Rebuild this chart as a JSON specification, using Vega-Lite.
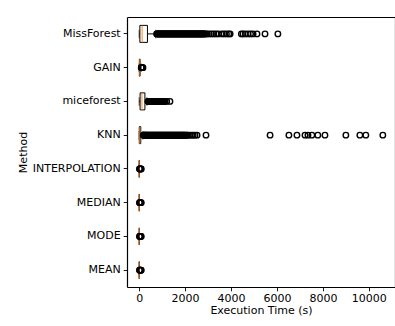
{
  "$schema": "https://vega.github.io/schema/vega-lite/v6.json",
  "autosize": {"type": "none"},
  "padding": {"left": 127, "top": 17, "right": 0, "bottom": 39},
  "width": 268,
  "height": 270,
  "background": "white",
  "view": {"stroke": null, "fill": "white"},
  "config": {
    "font": "DejaVu Sans",
    "axis": {
      "labelFont": "DejaVu Sans", "labelFontSize": 11, "labelColor": "black",
      "titleFont": "DejaVu Sans", "titleFontSize": 11, "titleColor": "black", "titleFontWeight": "normal",
      "tickColor": "black", "tickSize": 3.8, "tickWidth": 0.9, "grid": false,
      "domain": true, "domainColor": "black", "domainWidth": 1.2
    }
  },
  "resolve": {"axis": {"x": "independent", "y": "independent"}},
  "datasets": {
    "boxes": [
      {"Method": "MissForest", "lo": 0, "q1": 30, "med": 130, "q3": 360, "hi": 720},
      {"Method": "GAIN", "lo": 0, "q1": 8, "med": 20, "q3": 40, "hi": 85},
      {"Method": "miceforest", "lo": 0, "q1": 40, "med": 120, "q3": 250, "hi": 340},
      {"Method": "KNN", "lo": 0, "q1": 5, "med": 25, "q3": 70, "hi": 160},
      {"Method": "INTERPOLATION", "lo": 0, "q1": 1, "med": 3, "q3": 6, "hi": 13},
      {"Method": "MEDIAN", "lo": 0, "q1": 1, "med": 3, "q3": 6, "hi": 13},
      {"Method": "MODE", "lo": 0, "q1": 1, "med": 3, "q3": 6, "hi": 13},
      {"Method": "MEAN", "lo": 0, "q1": 1, "med": 3, "q3": 6, "hi": 13}
    ],
    "outliers": [
      {"Method": "MissForest", "t": 760}, {"Method": "MissForest", "t": 780}, {"Method": "MissForest", "t": 800},
      {"Method": "MissForest", "t": 825}, {"Method": "MissForest", "t": 850}, {"Method": "MissForest", "t": 875},
      {"Method": "MissForest", "t": 900}, {"Method": "MissForest", "t": 925}, {"Method": "MissForest", "t": 950},
      {"Method": "MissForest", "t": 975}, {"Method": "MissForest", "t": 1000}, {"Method": "MissForest", "t": 1025},
      {"Method": "MissForest", "t": 1050}, {"Method": "MissForest", "t": 1075}, {"Method": "MissForest", "t": 1100},
      {"Method": "MissForest", "t": 1125}, {"Method": "MissForest", "t": 1150}, {"Method": "MissForest", "t": 1175},
      {"Method": "MissForest", "t": 1200}, {"Method": "MissForest", "t": 1225}, {"Method": "MissForest", "t": 1250},
      {"Method": "MissForest", "t": 1275}, {"Method": "MissForest", "t": 1300}, {"Method": "MissForest", "t": 1325},
      {"Method": "MissForest", "t": 1350}, {"Method": "MissForest", "t": 1375}, {"Method": "MissForest", "t": 1400},
      {"Method": "MissForest", "t": 1425}, {"Method": "MissForest", "t": 1450}, {"Method": "MissForest", "t": 1475},
      {"Method": "MissForest", "t": 1500}, {"Method": "MissForest", "t": 1525}, {"Method": "MissForest", "t": 1550},
      {"Method": "MissForest", "t": 1575}, {"Method": "MissForest", "t": 1600}, {"Method": "MissForest", "t": 1625},
      {"Method": "MissForest", "t": 1650}, {"Method": "MissForest", "t": 1675}, {"Method": "MissForest", "t": 1700},
      {"Method": "MissForest", "t": 1725}, {"Method": "MissForest", "t": 1750}, {"Method": "MissForest", "t": 1775},
      {"Method": "MissForest", "t": 1800}, {"Method": "MissForest", "t": 1825}, {"Method": "MissForest", "t": 1850},
      {"Method": "MissForest", "t": 1875}, {"Method": "MissForest", "t": 1900}, {"Method": "MissForest", "t": 1925},
      {"Method": "MissForest", "t": 1950}, {"Method": "MissForest", "t": 1975}, {"Method": "MissForest", "t": 2000},
      {"Method": "MissForest", "t": 2025}, {"Method": "MissForest", "t": 2050}, {"Method": "MissForest", "t": 2075},
      {"Method": "MissForest", "t": 2100}, {"Method": "MissForest", "t": 2125}, {"Method": "MissForest", "t": 2150},
      {"Method": "MissForest", "t": 2175}, {"Method": "MissForest", "t": 2200}, {"Method": "MissForest", "t": 2225},
      {"Method": "MissForest", "t": 2250}, {"Method": "MissForest", "t": 2275}, {"Method": "MissForest", "t": 2300},
      {"Method": "MissForest", "t": 2325}, {"Method": "MissForest", "t": 2350}, {"Method": "MissForest", "t": 2375},
      {"Method": "MissForest", "t": 2400}, {"Method": "MissForest", "t": 2425}, {"Method": "MissForest", "t": 2450},
      {"Method": "MissForest", "t": 2475}, {"Method": "MissForest", "t": 2500}, {"Method": "MissForest", "t": 2525},
      {"Method": "MissForest", "t": 2550}, {"Method": "MissForest", "t": 2575}, {"Method": "MissForest", "t": 2600},
      {"Method": "MissForest", "t": 2625}, {"Method": "MissForest", "t": 2650}, {"Method": "MissForest", "t": 2675},
      {"Method": "MissForest", "t": 2700}, {"Method": "MissForest", "t": 2725}, {"Method": "MissForest", "t": 2750},
      {"Method": "MissForest", "t": 2775}, {"Method": "MissForest", "t": 2800}, {"Method": "MissForest", "t": 2830},
      {"Method": "MissForest", "t": 2870}, {"Method": "MissForest", "t": 2900}, {"Method": "MissForest", "t": 2960},
      {"Method": "MissForest", "t": 3050}, {"Method": "MissForest", "t": 3150}, {"Method": "MissForest", "t": 3250},
      {"Method": "MissForest", "t": 3350}, {"Method": "MissForest", "t": 3450}, {"Method": "MissForest", "t": 3600},
      {"Method": "MissForest", "t": 3700}, {"Method": "MissForest", "t": 3800}, {"Method": "MissForest", "t": 3900},
      {"Method": "MissForest", "t": 3960}, {"Method": "MissForest", "t": 4450}, {"Method": "MissForest", "t": 4520},
      {"Method": "MissForest", "t": 4620}, {"Method": "MissForest", "t": 4740}, {"Method": "MissForest", "t": 4850},
      {"Method": "MissForest", "t": 4960}, {"Method": "MissForest", "t": 5130}, {"Method": "MissForest", "t": 5480},
      {"Method": "MissForest", "t": 6040},
      {"Method": "GAIN", "t": 90}, {"Method": "GAIN", "t": 100}, {"Method": "GAIN", "t": 110},
      {"Method": "GAIN", "t": 120}, {"Method": "GAIN", "t": 135}, {"Method": "GAIN", "t": 150},
      {"Method": "GAIN", "t": 165},
      {"Method": "miceforest", "t": 380}, {"Method": "miceforest", "t": 400}, {"Method": "miceforest", "t": 420},
      {"Method": "miceforest", "t": 445}, {"Method": "miceforest", "t": 470}, {"Method": "miceforest", "t": 495},
      {"Method": "miceforest", "t": 520}, {"Method": "miceforest", "t": 545}, {"Method": "miceforest", "t": 570},
      {"Method": "miceforest", "t": 595}, {"Method": "miceforest", "t": 620}, {"Method": "miceforest", "t": 645},
      {"Method": "miceforest", "t": 670}, {"Method": "miceforest", "t": 695}, {"Method": "miceforest", "t": 720},
      {"Method": "miceforest", "t": 745}, {"Method": "miceforest", "t": 770}, {"Method": "miceforest", "t": 795},
      {"Method": "miceforest", "t": 820}, {"Method": "miceforest", "t": 845}, {"Method": "miceforest", "t": 870},
      {"Method": "miceforest", "t": 895}, {"Method": "miceforest", "t": 920}, {"Method": "miceforest", "t": 945},
      {"Method": "miceforest", "t": 970}, {"Method": "miceforest", "t": 995}, {"Method": "miceforest", "t": 1020},
      {"Method": "miceforest", "t": 1045}, {"Method": "miceforest", "t": 1070}, {"Method": "miceforest", "t": 1100},
      {"Method": "miceforest", "t": 1130}, {"Method": "miceforest", "t": 1200}, {"Method": "miceforest", "t": 1340},
      {"Method": "KNN", "t": 180}, {"Method": "KNN", "t": 200}, {"Method": "KNN", "t": 220},
      {"Method": "KNN", "t": 240}, {"Method": "KNN", "t": 260}, {"Method": "KNN", "t": 280},
      {"Method": "KNN", "t": 300}, {"Method": "KNN", "t": 325}, {"Method": "KNN", "t": 350},
      {"Method": "KNN", "t": 375}, {"Method": "KNN", "t": 400}, {"Method": "KNN", "t": 425},
      {"Method": "KNN", "t": 450}, {"Method": "KNN", "t": 475}, {"Method": "KNN", "t": 500},
      {"Method": "KNN", "t": 525}, {"Method": "KNN", "t": 550}, {"Method": "KNN", "t": 575},
      {"Method": "KNN", "t": 600}, {"Method": "KNN", "t": 625}, {"Method": "KNN", "t": 650},
      {"Method": "KNN", "t": 675}, {"Method": "KNN", "t": 700}, {"Method": "KNN", "t": 725},
      {"Method": "KNN", "t": 750}, {"Method": "KNN", "t": 775}, {"Method": "KNN", "t": 800},
      {"Method": "KNN", "t": 825}, {"Method": "KNN", "t": 850}, {"Method": "KNN", "t": 875},
      {"Method": "KNN", "t": 900}, {"Method": "KNN", "t": 925}, {"Method": "KNN", "t": 950},
      {"Method": "KNN", "t": 975}, {"Method": "KNN", "t": 1000}, {"Method": "KNN", "t": 1025},
      {"Method": "KNN", "t": 1050}, {"Method": "KNN", "t": 1075}, {"Method": "KNN", "t": 1100},
      {"Method": "KNN", "t": 1125}, {"Method": "KNN", "t": 1150}, {"Method": "KNN", "t": 1175},
      {"Method": "KNN", "t": 1200}, {"Method": "KNN", "t": 1225}, {"Method": "KNN", "t": 1250},
      {"Method": "KNN", "t": 1275}, {"Method": "KNN", "t": 1300}, {"Method": "KNN", "t": 1325},
      {"Method": "KNN", "t": 1350}, {"Method": "KNN", "t": 1375}, {"Method": "KNN", "t": 1400},
      {"Method": "KNN", "t": 1425}, {"Method": "KNN", "t": 1450}, {"Method": "KNN", "t": 1475},
      {"Method": "KNN", "t": 1500}, {"Method": "KNN", "t": 1525}, {"Method": "KNN", "t": 1550},
      {"Method": "KNN", "t": 1575}, {"Method": "KNN", "t": 1600}, {"Method": "KNN", "t": 1625},
      {"Method": "KNN", "t": 1650}, {"Method": "KNN", "t": 1675}, {"Method": "KNN", "t": 1700},
      {"Method": "KNN", "t": 1725}, {"Method": "KNN", "t": 1750}, {"Method": "KNN", "t": 1775},
      {"Method": "KNN", "t": 1800}, {"Method": "KNN", "t": 1825}, {"Method": "KNN", "t": 1850},
      {"Method": "KNN", "t": 1875}, {"Method": "KNN", "t": 1900}, {"Method": "KNN", "t": 1925},
      {"Method": "KNN", "t": 1950}, {"Method": "KNN", "t": 1975}, {"Method": "KNN", "t": 2000},
      {"Method": "KNN", "t": 2030}, {"Method": "KNN", "t": 2060}, {"Method": "KNN", "t": 2090},
      {"Method": "KNN", "t": 2130}, {"Method": "KNN", "t": 2200}, {"Method": "KNN", "t": 2280},
      {"Method": "KNN", "t": 2350}, {"Method": "KNN", "t": 2430}, {"Method": "KNN", "t": 2520},
      {"Method": "KNN", "t": 2910}, {"Method": "KNN", "t": 5700}, {"Method": "KNN", "t": 6520},
      {"Method": "KNN", "t": 6870}, {"Method": "KNN", "t": 7220}, {"Method": "KNN", "t": 7350},
      {"Method": "KNN", "t": 7520}, {"Method": "KNN", "t": 7780}, {"Method": "KNN", "t": 8090},
      {"Method": "KNN", "t": 9000}, {"Method": "KNN", "t": 9610}, {"Method": "KNN", "t": 9870},
      {"Method": "KNN", "t": 10610},
      {"Method": "INTERPOLATION", "t": 15}, {"Method": "INTERPOLATION", "t": 25}, {"Method": "INTERPOLATION", "t": 40},
      {"Method": "INTERPOLATION", "t": 55}, {"Method": "INTERPOLATION", "t": 70}, {"Method": "INTERPOLATION", "t": 90},
      {"Method": "MEDIAN", "t": 15}, {"Method": "MEDIAN", "t": 25}, {"Method": "MEDIAN", "t": 40},
      {"Method": "MEDIAN", "t": 55}, {"Method": "MEDIAN", "t": 70}, {"Method": "MEDIAN", "t": 90},
      {"Method": "MODE", "t": 15}, {"Method": "MODE", "t": 25}, {"Method": "MODE", "t": 40},
      {"Method": "MODE", "t": 55}, {"Method": "MODE", "t": 70}, {"Method": "MODE", "t": 90},
      {"Method": "MEAN", "t": 15}, {"Method": "MEAN", "t": 25}, {"Method": "MEAN", "t": 40},
      {"Method": "MEAN", "t": 55}, {"Method": "MEAN", "t": 70}, {"Method": "MEAN", "t": 90}
    ]
  },
  "layer": [
    {
      "data": {"name": "boxes"},
      "mark": {"type": "rule", "color": "black", "strokeWidth": 1},
      "encoding": {
        "x": {"field": "lo", "type": "quantitative",
              "scale": {"domain": [-530, 11140], "nice": false, "zero": false},
              "axis": {"title": "Execution Time (s)", "values": [0, 2000, 4000, 6000, 8000, 10000], "labelPadding": 2, "titlePadding": 1, "format": "d"}},
        "x2": {"field": "hi"},
        "y": {"field": "Method", "type": "nominal",
              "sort": ["MissForest", "GAIN", "miceforest", "KNN", "INTERPOLATION", "MEDIAN", "MODE", "MEAN"],
              "scale": {"type": "band", "paddingInner": 0, "paddingOuter": 0},
              "axis": {"title": "Method", "labelPadding": 3, "titlePadding": 4}}
      }
    },
    {
      "data": {"name": "boxes"},
      "mark": {"type": "tick", "color": "black", "size": 8.5, "thickness": 1},
      "encoding": {"x": {"field": "lo", "type": "quantitative", "axis": null}, "y": {"field": "Method", "type": "nominal", "sort": ["MissForest", "GAIN", "miceforest", "KNN", "INTERPOLATION", "MEDIAN", "MODE", "MEAN"], "axis": null}}
    },
    {
      "data": {"name": "boxes"},
      "mark": {"type": "tick", "color": "black", "size": 8.5, "thickness": 1},
      "encoding": {"x": {"field": "hi", "type": "quantitative", "axis": null}, "y": {"field": "Method", "type": "nominal", "sort": ["MissForest", "GAIN", "miceforest", "KNN", "INTERPOLATION", "MEDIAN", "MODE", "MEAN"], "axis": null}}
    },
    {
      "data": {"name": "boxes"},
      "mark": {"type": "bar", "fill": "white", "stroke": "black", "strokeWidth": 1, "size": 17},
      "encoding": {"x": {"field": "q1", "type": "quantitative", "axis": null}, "x2": {"field": "q3"}, "y": {"field": "Method", "type": "nominal", "sort": ["MissForest", "GAIN", "miceforest", "KNN", "INTERPOLATION", "MEDIAN", "MODE", "MEAN"], "axis": null}}
    },
    {
      "data": {"name": "boxes"},
      "mark": {"type": "tick", "color": "#ff7f0e", "size": 17, "thickness": 1.3},
      "encoding": {"x": {"field": "med", "type": "quantitative", "axis": null}, "y": {"field": "Method", "type": "nominal", "sort": ["MissForest", "GAIN", "miceforest", "KNN", "INTERPOLATION", "MEDIAN", "MODE", "MEAN"], "axis": null}}
    },
    {
      "data": {"name": "outliers"},
      "mark": {"type": "point", "shape": "circle", "filled": false, "stroke": "black", "strokeWidth": 1.4, "size": 30, "opacity": 1},
      "encoding": {
        "x": {"field": "t", "type": "quantitative", "axis": {"orient": "top", "title": null, "labels": false, "ticks": false}},
        "y": {"field": "Method", "type": "nominal", "sort": ["MissForest", "GAIN", "miceforest", "KNN", "INTERPOLATION", "MEDIAN", "MODE", "MEAN"], "axis": {"orient": "right", "title": null, "labels": false, "ticks": false}}
      }
    }
  ]
}
